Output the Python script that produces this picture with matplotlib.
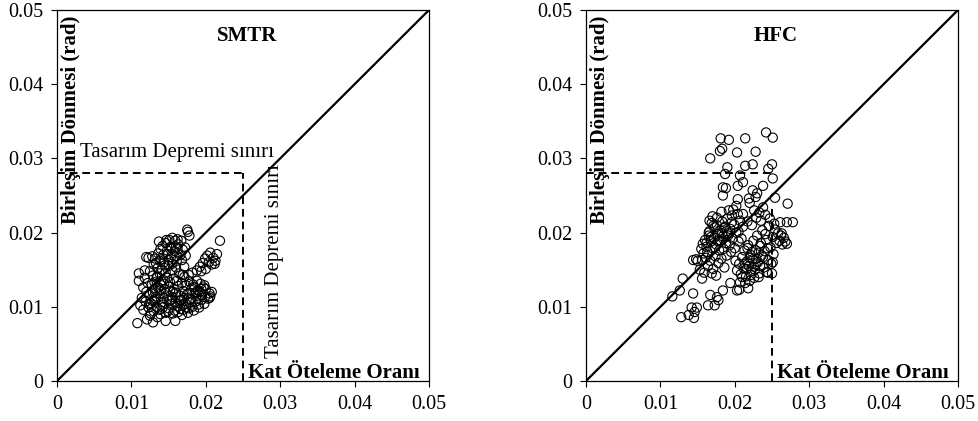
import matplotlib
matplotlib.use("Agg")
import matplotlib.pyplot as plt
import numpy as np

plt.rcParams['font.family'] = ['Liberation Serif', 'DejaVu Serif']

# Joint rotation vs. storey drift (values in 1e-3)
smtr_x = [12.0, 12.3, 12.8, 13.2, 13.6, 13.9, 14.2, 14.6, 15.1, 15.5, 15.9, 16.3, 16.7, 17.2, 17.5, 17.6,
          17.8, 14.0, 14.4, 14.9, 15.3, 15.8, 16.1, 16.6, 13.0, 13.5, 14.1, 14.6, 15.0, 15.5, 16.0, 16.4,
          12.5, 12.9, 13.4, 13.8, 14.3, 14.8, 15.2, 15.7, 11.8, 12.2, 12.7, 13.1, 13.6, 14.0, 14.5, 15.0,
          11.0, 11.0, 11.6, 12.0, 12.4, 12.9, 13.3, 13.8, 14.3, 16.8, 17.1, 16.9, 14.7, 13.7, 16.0, 15.4,
          11.2, 11.6, 11.9, 12.3, 12.6, 13.0, 13.4, 13.8, 14.2, 14.6, 15.0, 15.4, 15.8, 16.2, 16.6, 17.0,
          17.4, 17.8, 18.2, 18.6, 19.0, 12.1, 12.9, 13.5, 14.6, 15.9, 16.8, 17.6, 10.8, 12.5, 13.2, 14.8,
          15.5, 16.0, 16.5, 17.0, 17.5, 18.0, 18.5, 19.0, 19.5, 20.0, 20.5, 20.6, 20.8, 16.3, 16.8, 17.3,
          17.8, 18.3, 18.8, 19.3, 19.8, 17.1, 17.7, 18.2, 15.7, 15.2, 14.1, 19.4, 20.3, 18.9,
          18.8, 19.2, 19.6, 19.9, 20.2, 20.6, 21.0, 21.3, 20.8, 21.5, 21.9, 19.4, 20.0, 21.2, 20.4,
          13.1, 14.4, 15.6, 12.6, 13.9, 15.1, 16.7, 17.9, 18.4, 19.7,
          13.3, 13.8, 14.3, 14.8, 15.3, 15.8, 13.5, 14.0, 14.5, 15.0, 15.5, 16.2, 13.9, 14.6, 15.4, 16.1,
          14.2, 14.9, 15.6, 16.3, 17.0, 17.7, 18.4, 19.1, 19.8, 20.5, 16.4, 17.1, 17.8, 18.5, 19.2, 19.9,
          15.9, 16.6, 17.3, 18.0, 18.7, 19.4, 12.4, 12.8, 13.2, 11.4, 11.8, 16.9, 17.3, 16.2]
smtr_y = [16.7, 16.6, 16.8, 16.5, 17.2, 17.8, 18.2, 18.6, 19.0, 19.3, 18.9, 18.4, 18.9, 18.0, 20.4, 20.1,
          19.6, 16.4, 16.0, 17.1, 16.7, 17.5, 16.2, 17.0, 15.7, 15.2, 15.0, 14.6, 15.5, 14.9, 15.3, 14.5,
          14.8, 14.2, 13.9, 14.5, 13.6, 13.9, 13.3, 13.8, 13.9, 13.2, 12.9, 13.3, 12.6, 12.9, 12.4, 12.7,
          14.5, 13.5, 12.6, 12.0, 11.6, 11.9, 11.4, 11.7, 11.2, 16.3, 15.4, 14.3, 19.0, 18.8, 18.1, 17.9,
          10.2, 9.6, 10.7, 9.9, 10.5, 9.4, 10.0, 9.6, 10.3, 9.2, 9.8, 10.4, 9.5, 10.1, 9.7, 10.3,
          9.9, 10.6, 10.0, 10.7, 10.3, 8.3, 7.9, 8.6, 8.1, 8.1, 8.9, 9.2, 7.8, 8.8, 11.0, 10.9,
          11.3, 11.9, 11.5, 12.1, 11.7, 12.3, 11.8, 12.2, 11.6, 12.4, 11.8, 11.4, 12.0, 12.8, 13.2, 12.9,
          13.4, 13.0, 13.5, 13.1, 12.9, 14.0, 14.3, 14.6, 12.4, 12.1, 10.6, 10.9, 11.1, 11.1,
          14.9, 15.4, 15.9, 16.5, 16.9, 17.3, 16.6, 16.2, 15.7, 17.1, 18.9, 14.8, 15.1, 15.8, 16.0,
          10.8, 13.1, 12.0, 9.1, 9.0, 10.8, 10.9, 11.0, 12.7, 12.6,
          15.9, 16.2, 17.0, 17.6, 18.1, 16.8, 14.1, 13.5, 15.6, 16.3, 15.8, 17.8, 12.2, 11.9, 11.0, 13.5,
          9.9, 9.4, 9.1, 9.3, 9.6, 9.8, 9.5, 9.9, 10.4, 11.2, 10.8, 11.2, 11.9, 12.6, 12.0, 11.3,
          10.6, 10.9, 10.4, 11.0, 12.0, 12.4, 10.3, 10.8, 12.3, 11.2, 14.9, 17.7, 16.9, 19.1]

hfc_x = [15.5, 15.8, 15.7, 16.0, 16.2, 16.3, 16.5, 16.6, 16.8, 16.9, 17.0, 17.2, 17.3, 17.5, 17.6, 17.7,
         17.9, 18.0, 18.1, 18.3, 18.4, 18.5, 18.7, 18.8, 19.0, 19.1, 19.3, 19.4, 19.6, 19.7, 19.9, 20.0,
         20.2, 20.4, 20.5, 20.7, 16.1, 16.7, 17.4, 18.2, 15.9, 16.4, 17.1, 17.8, 18.6, 16.6, 17.0, 17.6,
         18.2, 19.2, 19.8, 15.6, 16.9, 17.5, 18.9, 19.5, 20.1, 15.3, 15.0, 14.8,
         20.3, 20.6, 20.8, 21.0, 21.2, 21.3, 21.5, 21.6, 21.8, 21.9, 22.1, 22.2, 22.4, 22.5, 22.7, 22.8,
         23.0, 23.1, 23.3, 23.4, 23.6, 23.7, 23.9, 24.0, 24.2, 24.3, 24.5, 24.6, 24.8, 24.9, 25.1, 25.2,
         25.4, 25.6, 25.8, 26.0, 26.2, 26.4, 26.6, 26.8, 20.5, 21.1, 21.7, 22.3, 22.9, 23.5, 24.1, 24.7,
         25.3, 20.9, 21.4, 22.0, 22.6, 21.8, 20.6, 23.2, 24.4, 25.0, 21.1, 22.6, 23.3, 20.2, 21.9, 22.8,
         23.8,
         24.2, 25.1, 18.1, 19.2, 21.4, 18.3, 18.0, 20.3, 22.8, 16.7, 19.0, 21.4, 22.4, 25.0, 24.5, 18.7,
         20.7, 21.1, 25.1, 23.8, 18.4, 18.8, 20.4, 22.4, 23.0, 18.4, 25.4, 27.1, 20.4, 22.0, 26.1, 27.0,
         27.8, 27.0, 26.3, 25.1, 11.6, 12.6, 13.0, 12.8, 13.8, 14.4, 14.2, 14.9, 14.5, 14.6, 16.4, 16.7,
         17.3, 17.6, 17.8, 14.4, 15.6, 18.4, 19.4, 20.3, 20.7,
         16.2, 16.8, 17.3, 17.9, 18.5, 19.1, 19.6, 16.5, 17.1, 17.7, 18.3, 18.9, 21.4, 22.0, 22.6, 23.2,
         23.8, 24.4, 21.7, 22.3, 22.9, 23.5, 24.1, 21.0, 21.6, 22.2, 22.8, 23.4]
hfc_y = [17.8, 17.2, 18.5, 19.0, 18.1, 17.4, 19.6, 20.2, 18.8, 21.3, 17.9, 19.3, 20.7, 18.4, 21.0, 19.8,
         17.6, 20.3, 18.9, 21.5, 19.5, 17.8, 20.8, 18.6, 21.9, 19.9, 18.3, 20.5, 22.3, 19.2, 21.1, 17.9,
         20.0, 22.5, 18.8, 21.6, 16.6, 16.2, 16.8, 16.5, 14.6, 15.5, 15.1, 15.9, 15.3, 21.6, 22.2, 22.0,
         22.8, 23.0, 23.1, 16.3, 14.5, 14.2, 16.9, 17.4, 16.2, 15.0, 16.2, 16.4,
         14.9, 15.8, 14.4, 16.7, 15.2, 17.6, 14.1, 16.1, 18.3, 15.5, 17.0, 14.3, 16.4, 18.9, 15.0, 17.6,
         19.6, 16.0, 14.5, 18.2, 16.9, 20.3, 15.3, 17.5, 19.0, 14.7, 16.3, 20.9, 18.0, 15.8, 19.4, 17.1,
         20.4, 18.6, 19.9, 18.9, 19.6, 18.4, 19.3, 18.8, 20.1, 20.8, 21.5, 21.0, 22.0, 21.6, 22.4, 21.9,
         21.2, 19.2, 13.2, 13.5, 13.9, 12.5, 12.3, 14.0, 14.6, 14.5, 22.5, 23.0, 22.7, 23.6, 24.6, 24.8,
         23.4,
         33.5, 32.8, 32.7, 32.5, 32.7, 31.3, 31.0, 30.8, 30.9, 30.0, 28.8, 29.0, 29.2, 29.2, 28.6, 27.9,
         27.7, 26.8, 27.3, 26.3, 26.1, 26.0, 26.3, 25.7, 25.3, 25.0, 24.7, 23.9, 24.5, 24.0, 21.4, 21.4,
         21.4, 18.5, 19.9, 16.0, 11.4, 12.2, 13.8, 8.6, 8.9, 11.8, 9.9, 9.9, 8.5, 9.3, 10.2, 11.6,
         10.2, 11.3, 10.9, 16.3, 13.8, 12.2, 13.2, 12.2, 13.3,
         18.6, 19.4, 18.0, 19.0, 20.6, 19.6, 21.4, 20.0, 20.9, 18.9, 19.9, 20.2, 15.8, 16.6, 15.4, 17.3,
         16.7, 17.9, 17.9, 17.4, 16.5, 18.6, 19.8, 14.0, 15.1, 14.8, 15.7, 15.5]

panels = [
    ("SMTR", smtr_x, smtr_y, 0.028, True),
    ("HFC", hfc_x, hfc_y, 0.0235, False),
]

fig = plt.figure(figsize=(9.79, 4.21), dpi=100)
lefts = [57 / 979, 586 / 979]

for left, (name, xs, ys, vtop, vlabel) in zip(lefts, panels):
    ax = fig.add_axes([left, 40 / 421, 372 / 979, 371 / 421])
    x = np.array(xs) * 1e-3
    y = np.array(ys) * 1e-3

    # 1:1 line and design-earthquake limits
    ax.plot([0, 0.05], [0, 0.05], color='black', lw=1.6, zorder=2)
    ax.plot([0, 0.025], [0.028, 0.028], color='black', lw=1.4, dashes=(4, 2.5), zorder=2)
    ax.plot([0.025, 0.025], [0, vtop], color='black', lw=1.4, dashes=(4, 2.5), zorder=2)

    ax.scatter(x, y, s=44, facecolors='none', edgecolors='black', linewidths=0.8, zorder=3)

    ax.set_xlim(0, 0.05)
    ax.set_ylim(0, 0.05)
    ticks = [0, 0.01, 0.02, 0.03, 0.04, 0.05]
    labels = ['0', '0.01', '0.02', '0.03', '0.04', '0.05']
    ax.set_xticks(ticks)
    ax.set_xticklabels(labels)
    ax.set_yticks(ticks)
    ax.set_yticklabels(labels)
    ax.tick_params(direction='out', length=4, width=0.8, labelsize=14.5, pad=6)
    for sp in ax.spines.values():
        sp.set_linewidth(0.9)

    ax.text(0.0255, 0.0465, name, ha='center', va='center', fontsize=15, fontweight='bold')
    ax.text(0.0019, 0.0352, "Birleşim Dönmesi (rad)", rotation=90, ha='center', va='center',
            fontsize=15, fontweight='bold')
    ax.text(0.0257, 0.0011, "Kat Öteleme Oranı", ha='left', va='center', fontsize=15, fontweight='bold')
    if vlabel:
        ax.text(0.0031, 0.0308, "Tasarım Depremi sınırı", ha='left', va='center', fontsize=15)
        ax.text(0.0292, 0.0162, "Tasarım Depremi sınırı", rotation=90, ha='center', va='center',
                fontsize=15)

fig.savefig("out.png", dpi=100)
